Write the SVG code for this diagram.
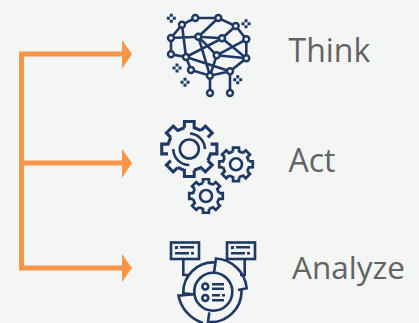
<svg xmlns="http://www.w3.org/2000/svg" xmlns:xlink="http://www.w3.org/1999/xlink" width="419" height="323" viewBox="0 0 419 323">
<style>
.ln{fill:none;stroke:#1f3864;stroke-width:2.6;stroke-linejoin:miter}
.nd{fill:#f4f6f6;stroke:#1f3864;stroke-width:2.4}
.fl{fill:#1f3864}
.lb{font-family:"Open Sans",sans-serif;fill:#636363}
.cn{fill:none;stroke:#f79646;stroke-width:5}
.hd{fill:#f79646}
</style>
<defs>
<path id="t" d="M-17.5,-76L-17.4,-98.5L17.4,-98.5L17.5,-76L41.3,-66.1"/>
<path id="o" d="M-17.5,-76L-17.4,-98.5L17.4,-98.5L17.5,-76"/>
<g id="g8"><use xlink:href="#t"/><use xlink:href="#t" transform="rotate(45)"/><use xlink:href="#t" transform="rotate(90)"/><use xlink:href="#t" transform="rotate(135)"/><use xlink:href="#t" transform="rotate(180)"/><use xlink:href="#t" transform="rotate(225)"/><use xlink:href="#t" transform="rotate(270)"/><use xlink:href="#t" transform="rotate(315)"/></g>
<path id="s" d="M-1.5,-4.5h3v3h-3zM-1.5,1.5h3v3h-3zM-4.5,-1.5h3v3h-3zM1.5,-1.5h3v3h-3z"/>
</defs>
<rect width="419" height="323" fill="#f4f6f6"/>
<g id="connectors">
<path class="cn" d="M21.5,52V270"/>
<path class="cn" d="M19,54H123M19,163H123M19,268H123"/>
<path class="hd" d="M122,40L132,54L122,69zM122,149L132,163L122,178zM122,254L132,268L122,282z"/>
</g>
<g id="think">
<path class="ln" d="M195.3,18H218.3L235.7,26L246.3,39.3V58.3L230,71.3L210,75.7L191,70L186,57L171,54.3V38L182,24.7L195.3,18M182,24.7L186,57M171,38L198.3,36.7L222,38.3L246.3,58.3M198.3,36.7L218.3,18M198.3,36.7L210,75.7M186,57L222,38.3L235.7,26M216.7,55.3L246.3,39.3M216.7,55.3L246.3,58.3M216.7,55.3L210,75.7M186,57L230,71.3M198.3,36.7L216.7,55.3M210,75.7V93M230,71.3V93"/>
<g class="nd"><circle cx="195.3" cy="18" r="3"/><circle cx="218.3" cy="18" r="3"/><circle cx="182" cy="24.7" r="3"/><circle cx="235.7" cy="26" r="3"/><circle cx="171" cy="38" r="3"/><circle cx="198.3" cy="36.7" r="3"/><circle cx="222" cy="38.3" r="3"/><circle cx="246.3" cy="39.3" r="3"/><circle cx="171" cy="54.3" r="3"/><circle cx="186" cy="57" r="3"/><circle cx="216.7" cy="55.3" r="3"/><circle cx="246.3" cy="58.3" r="3"/><circle cx="191" cy="70" r="3"/><circle cx="230" cy="71.3" r="3"/><circle cx="210" cy="75.7" r="3"/><circle cx="210" cy="93" r="3"/><circle cx="230" cy="93" r="3"/></g>
<g class="fl"><use xlink:href="#s" x="171.3" y="18.3"/><use xlink:href="#s" x="246" y="23.7"/><use xlink:href="#s" x="177" y="68"/><use xlink:href="#s" x="185" y="82.3"/><use xlink:href="#s" x="237.7" y="79.7"/></g>
<text class="lb" x="288.5" y="62" font-size="32">Think</text>
</g>
<g id="act">
<g class="ln" transform="translate(189.3,149) scale(.28)" style="stroke-width:11"><use xlink:href="#t"/><use xlink:href="#o" transform="rotate(45)"/><use xlink:href="#t" transform="rotate(90)"/><use xlink:href="#t" transform="rotate(135)"/><use xlink:href="#t" transform="rotate(180)"/><use xlink:href="#o" transform="rotate(225)"/><use xlink:href="#t" transform="rotate(270)"/><use xlink:href="#t" transform="rotate(315)"/></g>
<circle class="ln" cx="189.3" cy="149" r="9.5"/>
<path class="ln" d="M190,133.5A16,16 0 0 1 205,149M173.3,149A16,16 0 0 0 189.3,165"/>
<use class="ln" xlink:href="#g8" transform="translate(236,164.3) scale(.17)" style="stroke-width:16"/>
<circle class="ln" cx="236" cy="164.3" r="6"/>
<use class="ln" xlink:href="#g8" transform="translate(206,196) scale(.17)" style="stroke-width:16"/>
<circle class="ln" cx="206" cy="196" r="6"/>
<text class="lb" x="288.5" y="172" font-size="32">Act</text>
</g>
<g id="analyze">
<rect class="ln" x="171" y="242.5" width="28" height="16.5"/>
<rect class="ln" x="227" y="242.5" width="28" height="16.5"/>
<path class="fl" d="M175,246h3v3h-3zM180,246h14v2.4h-14zM175,252h14v2.4h-14zM191,252h3v2.4h-3zM231,246h3v3h-3zM236,246h14v2.4h-14zM231,252h14v2.4h-14zM247,252h3v2.4h-3z"/>
<path class="ln" d="M183.3,259V275H189M244.7,259V275H240"/>
<circle class="ln" cx="213.3" cy="291.7" r="19"/>
<path class="ln" d="M215.5,262.5A30,30 0 0 0 183.3,293.3L193.3,294.3"/>
<path class="ln" d="M214,273L216,258.5A33,33 0 0 1 246.7,288.3L238,290"/>
<path class="ln" d="M193.3,294.3L178.5,295.7A36,36 0 0 0 203,323"/>
<path class="ln" d="M209.3,312.3L208,322A31,31 0 0 0 241.5,289.5"/>
<circle class="ln" cx="205.3" cy="286.5" r="3"/><circle class="ln" cx="205.3" cy="298" r="3"/>
<path class="fl" d="M212,283h12v2.4h-12zM212,287.5h12v2.4h-12zM212,294h8v2.4h-8zM222,294h3v2.4h-3zM212,299h12v2.4h-12z"/>
<text class="lb" x="292" y="279" font-size="31.5">Analyze</text>
</g>
</svg>
